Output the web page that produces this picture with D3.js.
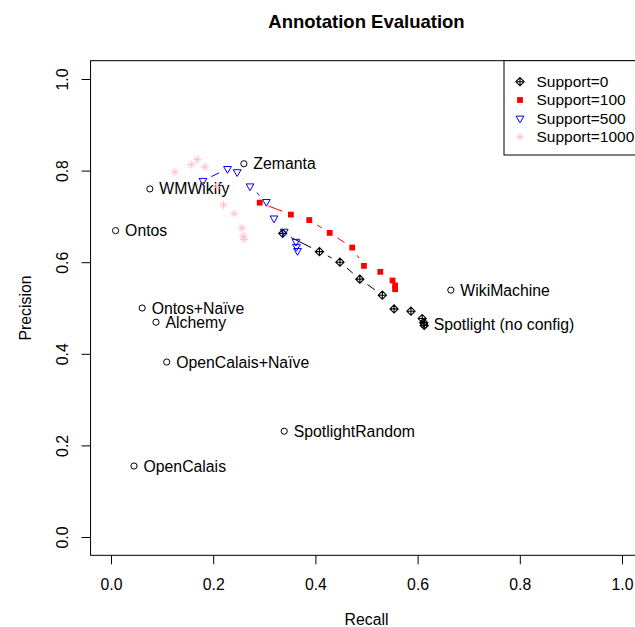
<!DOCTYPE html>
<html><head><meta charset="utf-8">
<script src="https://cdn.jsdelivr.net/npm/d3@7"></script>
<style>
html,body{margin:0;padding:0;background:#fff;}
svg{display:block;font-family:"Liberation Sans",Arial,Helvetica,sans-serif;}
</style></head>
<body>
<script>
// ---- data ----
const labelNames = ["Zemanta","WMWikify","Ontos","Ontos+Naïve","Alchemy","OpenCalais+Naïve","SpotlightRandom","OpenCalais","WikiMachine","Spotlight (no config)"];
const labelRecall = [0.260,0.076,0.009,0.061,0.088,0.109,0.339,0.045,0.665,0.613];
const labelPrecision = [0.815,0.760,0.669,0.500,0.469,0.382,0.231,0.155,0.539,0.463];

const support0Recall = [0.336,0.408,0.448,0.487,0.531,0.554,0.587,0.609,0.612,0.613];
const support0Precision = [0.663,0.623,0.600,0.563,0.528,0.498,0.493,0.477,0.468,0.462];
const support100Recall = [0.291,0.352,0.388,0.428,0.472,0.495,0.527,0.551,0.556,0.556];
const support100Precision = [0.730,0.704,0.692,0.664,0.632,0.592,0.579,0.560,0.549,0.541];
const support500Recall = [0.180,0.228,0.247,0.272,0.304,0.319,0.339,0.362,0.363,0.365];
const support500Precision = [0.778,0.804,0.797,0.766,0.732,0.696,0.667,0.645,0.634,0.625];
const support1000Recall = [0.125,0.157,0.169,0.184,0.207,0.220,0.241,0.256,0.259,0.260];
const support1000Precision = [0.797,0.813,0.824,0.808,0.766,0.725,0.706,0.675,0.657,0.650];

const seriesNames = ["Support=0","Support=100","Support=500","Support=1000"];
const xTicks = [0.0,0.2,0.4,0.6,0.8,1.0];
const yTicks = [0.0,0.2,0.4,0.6,0.8,1.0];

// ---- layout ----
const W = 635, H = 627;
const FS = 15.8;
const x = d3.scaleLinear().domain([0,1]).range([111,622]);
const y = d3.scaleLinear().domain([0,1]).range([537,79]);
const R = 2.9;

const svg = d3.select("body").append("svg").attr("width",W).attr("height",H);

// plot box
const bx0 = x(-0.04), bx1 = x(1.04), by0 = y(-0.04), by1 = y(1.04);
svg.append("rect").attr("x",bx0).attr("y",by1).attr("width",bx1-bx0).attr("height",by0-by1)
  .attr("fill","none").attr("stroke","#000").attr("stroke-width",1);

// axes
const xAxis = d3.axisBottom(x).tickValues(xTicks).tickFormat(d3.format(".1f")).tickSize(9).tickPadding(14);
const gx = svg.append("g").attr("transform",`translate(0,${by0})`).call(xAxis);
gx.select(".domain").remove();
gx.selectAll("text").attr("font-size",FS).attr("font-family",null).attr("fill","#000");
gx.selectAll("line").attr("stroke","#000");

const yAxis = d3.axisLeft(y).tickValues(yTicks).tickFormat(d3.format(".1f")).tickSize(9).tickPadding(0);
const gy = svg.append("g").attr("transform",`translate(${bx0},0)`).call(yAxis);
gy.select(".domain").remove();
gy.selectAll("line").attr("stroke","#000");
gy.selectAll("text").remove();
gy.selectAll(".tick").append("text")
  .attr("transform","translate(-28,0) rotate(-90)")
  .attr("text-anchor","middle").attr("dy","0.35em")
  .attr("font-size",FS).attr("fill","#000")
  .text(d=>d3.format(".1f")(d));

// titles
svg.append("text").attr("x",(bx0+bx1)/2).attr("y",27.5).attr("text-anchor","middle")
  .attr("font-weight","bold").attr("font-size",18.5).text("Annotation Evaluation");
svg.append("text").attr("x",(bx0+bx1)/2).attr("y",625).attr("text-anchor","middle")
  .attr("font-size",FS).text("Recall");
svg.append("text").attr("transform",`translate(31,${(by0+by1)/2}) rotate(-90)`).attr("text-anchor","middle")
  .attr("font-size",FS).text("Precision");

// symbol drawers
function drawSym(g, type, cx, cy, color){
  if(type==="circle"){
    g.append("circle").attr("cx",cx).attr("cy",cy).attr("r",R+0.2).attr("fill","none").attr("stroke",color).attr("stroke-width",1);
  } else if(type==="diamondplus"){
    const xc = Math.SQRT2*R;
    g.append("path").attr("d",`M${cx-xc},${cy}L${cx},${cy-xc}L${cx+xc},${cy}L${cx},${cy+xc}Z M${cx-xc},${cy}L${cx+xc},${cy} M${cx},${cy-xc}L${cx},${cy+xc}`)
      .attr("fill","none").attr("stroke",color).attr("stroke-width",1.1);
  } else if(type==="square"){
    g.append("rect").attr("x",cx-R).attr("y",cy-R).attr("width",2*R).attr("height",2*R).attr("fill",color);
  } else if(type==="tridown"){
    const r = 1.555*R, xc = 1.347*R, yc = 0.778*R;
    g.append("path").attr("d",`M${cx},${cy+r}L${cx+xc},${cy-yc}L${cx-xc},${cy-yc}Z`)
      .attr("fill","none").attr("stroke",color).attr("stroke-width",1);
  } else if(type==="asterisk"){
    const a = R, b = Math.SQRT2*R;
    g.append("path").attr("d",`M${cx-a},${cy-a}L${cx+a},${cy+a}M${cx-a},${cy+a}L${cx+a},${cy-a}M${cx-b},${cy}L${cx+b},${cy}M${cx},${cy-b}L${cx},${cy+b}`)
      .attr("fill","none").attr("stroke",color).attr("stroke-width",1);
  }
}

// labelled circles
const gl = svg.append("g");
labelNames.forEach((n,i)=>{
  const cx = x(labelRecall[i]), cy = y(labelPrecision[i]);
  drawSym(gl,"circle",cx,cy,"#000");
  gl.append("text").attr("x",cx+9.5).attr("y",cy).attr("dy","0.35em").attr("font-size",FS).text(n);
});

// series, type = "b": segments with gaps around the points
const series = [
  {name:seriesNames[0], rx:support0Recall, py:support0Precision, color:"#000000", sym:"diamondplus"},
  {name:seriesNames[1], rx:support100Recall, py:support100Precision, color:"#FF0000", sym:"square"},
  {name:seriesNames[2], rx:support500Recall, py:support500Precision, color:"#0000FF", sym:"tridown"},
  {name:seriesNames[3], rx:support1000Recall, py:support1000Precision, color:"#FFC0CB", sym:"asterisk"}
];
const GAP = 9.3;
series.forEach(s=>{
  const g = svg.append("g");
  const pts = s.rx.map((v,i)=>[x(v), y(s.py[i])]);
  for(let i=0;i<pts.length-1;i++){
    const [x1,y1]=pts[i],[x2,y2]=pts[i+1];
    const dx=x2-x1, dy=y2-y1, L=Math.hypot(dx,dy);
    if(L>2*GAP){
      const f=GAP/L;
      g.append("line").attr("x1",x1+f*dx).attr("y1",y1+f*dy).attr("x2",x2-f*dx).attr("y2",y2-f*dy)
        .attr("stroke",s.color).attr("stroke-width",1);
    }
  }
  pts.forEach(p=>drawSym(g,s.sym,p[0],p[1],s.color));
});

// legend
const lx0 = 504, ly0 = by1, ly1 = 155;
svg.append("rect").attr("x",lx0).attr("y",ly0).attr("width",bx1-lx0).attr("height",ly1-ly0)
  .attr("fill","#fff").attr("stroke","#000").attr("stroke-width",1);
const legY = d3.scalePoint().domain(seriesNames).range([81.7,136.7]);
series.forEach(s=>{
  const gy2 = legY(s.name);
  drawSym(svg,s.sym,520,gy2,s.color);
  svg.append("text").attr("x",536.5).attr("y",gy2).attr("dy","0.35em").attr("font-size",15.5).text(s.name);
});
</script>
</body></html>
